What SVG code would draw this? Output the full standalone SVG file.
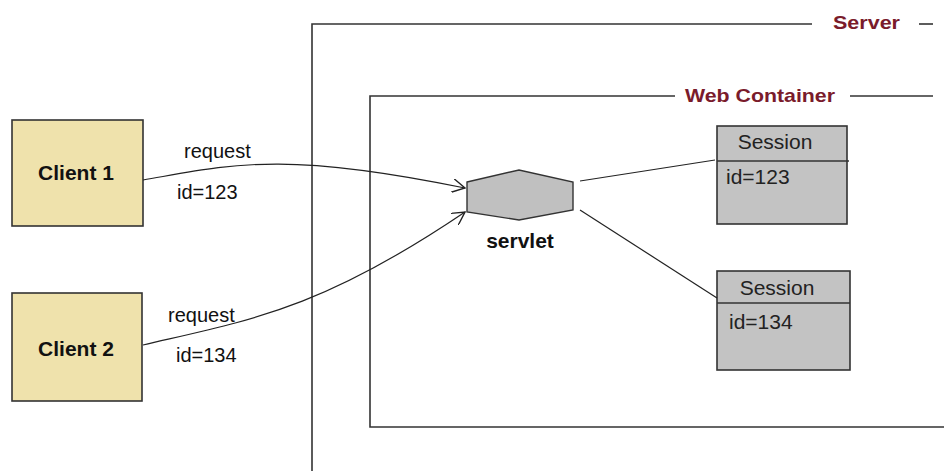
<svg xmlns="http://www.w3.org/2000/svg" width="944" height="471" viewBox="0 0 944 471">
<style>
.frame{fill:none;stroke:#333;stroke-width:1.6}
.title{font-family:"Liberation Sans",Arial,sans-serif;font-weight:bold;font-size:19px;fill:#7a1b2b}
.client{fill:#efe2ac;stroke:#333;stroke-width:1.6}
.clabel{font-family:"Liberation Sans",Arial,sans-serif;font-weight:bold;font-size:21px;fill:#111;text-anchor:middle}
.lbl{font-family:"Liberation Sans",Arial,sans-serif;font-size:20px;fill:#111}
.slbl{font-family:"Liberation Sans",Arial,sans-serif;font-size:21px;fill:#222}
.sess{fill:#c3c3c3;stroke:#333;stroke-width:1.6}
.conn{fill:none;stroke:#222;stroke-width:1.2}
</style>
<defs>
<marker id="arr" viewBox="0 0 12 12" refX="11" refY="6" markerWidth="14" markerHeight="14" markerUnits="userSpaceOnUse" orient="auto">
<path d="M0,0 L11,6 L0,12" fill="none" stroke="#222" stroke-width="1.2"/>
</marker>
</defs>
<rect width="944" height="471" fill="#fff"/>
<g id="server">
<path class="frame" d="M812,24 H312 V471"/>
<path class="frame" d="M919,24 H933"/>
<text class="title" x="833" y="29" textLength="67" lengthAdjust="spacingAndGlyphs">Server</text>
</g>
<g id="web-container">
<path class="frame" d="M675,96 H370 V427 H944"/>
<path class="frame" d="M850,96 H933"/>
<text class="title" x="685" y="102" textLength="150" lengthAdjust="spacingAndGlyphs">Web Container</text>
</g>
<g id="client1">
<rect class="client" x="12" y="120" width="131" height="106"/>
<text class="clabel" x="76" y="180">Client 1</text>
</g>
<g id="client2">
<rect class="client" x="12" y="293" width="130" height="108"/>
<text class="clabel" x="76" y="356">Client 2</text>
</g>
<g id="servlet">
<polygon points="467,182 519,170 573,182 573,210 519,220 467,212" fill="#c0c0c0" stroke="#333" stroke-width="1.4"/>
<text class="clabel" x="520" y="248" font-size="20">servlet</text>
</g>
<g id="session1">
<rect class="sess" x="717" y="126" width="130" height="98"/>
<line x1="717" y1="161" x2="849" y2="161" stroke="#333" stroke-width="1.6"/>
<text class="slbl" x="775" y="149" text-anchor="middle">Session</text>
<text class="slbl" x="726" y="184">id=123</text>
</g>
<g id="session2">
<rect class="sess" x="717" y="271" width="133" height="99"/>
<line x1="717" y1="303" x2="850" y2="303" stroke="#333" stroke-width="1.6"/>
<text class="slbl" x="777" y="295" text-anchor="middle">Session</text>
<text class="slbl" x="729" y="329">id=134</text>
</g>
<g id="connectors">
<path class="conn" d="M143,180 C230,165 280,150 465,188" marker-end="url(#arr)"/>
<path class="conn" d="M143,345 C250,320 320,310 465,212" marker-end="url(#arr)"/>
<line class="conn" x1="580" y1="181" x2="715" y2="160"/>
<line class="conn" x1="580" y1="210" x2="717" y2="298"/>
<text class="lbl" x="184" y="158">request</text>
<text class="lbl" x="177" y="199">id=123</text>
<text class="lbl" x="168" y="322">request</text>
<text class="lbl" x="176" y="362">id=134</text>
</g>
</svg>
